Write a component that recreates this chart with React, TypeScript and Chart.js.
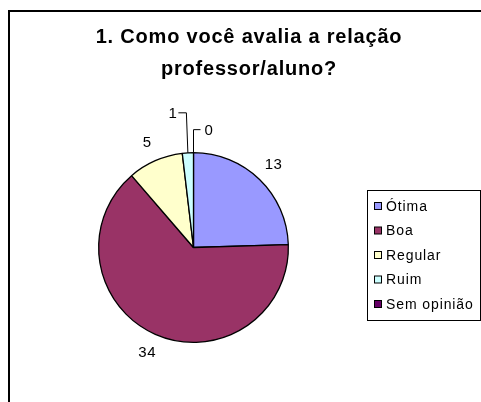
import React, { useEffect, useRef } from "react";
import { Chart, registerables } from "chart.js";

Chart.register(...registerables);

const categories = ["Ótima", "Boa", "Regular", "Ruim", "Sem opinião"];
const values = [13, 34, 5, 1, 0];
const colors = ["#9999FF", "#993366", "#FFFFCC", "#CCFFFF", "#660066"];
const titleLines = ["1. Como você avalia a relação", "professor/aluno?"];

const FONT = '"Liberation Sans", Arial, sans-serif';

const framePlugin = {
  id: "frame",
  beforeDraw(chart: any) {
    const ctx = chart.ctx;
    ctx.save();
    ctx.fillStyle = "#ffffff";
    ctx.fillRect(0, 0, chart.width, chart.height);
    ctx.strokeStyle = "#000000";
    ctx.lineWidth = 2;
    ctx.strokeRect(9, 11, chart.width + 20, chart.height + 20);
    ctx.restore();
  },
};

const titlePlugin = {
  id: "excelTitle",
  afterDraw(chart: any) {
    const ctx = chart.ctx;
    ctx.save();
    ctx.fillStyle = "#000000";
    ctx.font = `bold 20px ${FONT}`;
    (ctx as any).letterSpacing = "0.8px";
    ctx.textAlign = "center";
    ctx.textBaseline = "alphabetic";
    titleLines.forEach((line, i) => {
      ctx.fillText(line, 249, 43 + i * 32);
    });
    ctx.restore();
  },
};

const legendPlugin = {
  id: "excelLegend",
  afterDraw(chart: any) {
    const ctx = chart.ctx;
    const ds = chart.data.datasets[0];
    const labels = chart.data.labels as string[];
    ctx.save();
    ctx.strokeStyle = "#000000";
    ctx.lineWidth = 1;
    ctx.strokeRect(367.5, 190.5, 113, 130);
    ctx.font = `14px ${FONT}`;
    (ctx as any).letterSpacing = "0.9px";
    ctx.textAlign = "left";
    ctx.textBaseline = "middle";
    labels.forEach((lab, i) => {
      const cy = 206 + i * 24.5;
      ctx.fillStyle = ds.backgroundColor[i];
      ctx.fillRect(374.5, cy - 3.5, 7, 7);
      ctx.strokeStyle = "#000000";
      ctx.strokeRect(374.5, cy - 3.5, 7, 7);
      ctx.fillStyle = "#000000";
      ctx.fillText(lab, 386, cy + 1);
    });
    ctx.restore();
  },
};

const labelPlugin = {
  id: "excelLabels",
  afterDatasetsDraw(chart: any) {
    const ctx = chart.ctx;
    const meta = chart.getDatasetMeta(0);
    const data = chart.data.datasets[0].data as number[];
    ctx.save();
    ctx.font = `15px ${FONT}`;
    (ctx as any).letterSpacing = "0.5px";
    ctx.fillStyle = "#000000";
    ctx.strokeStyle = "#000000";
    ctx.lineWidth = 1;
    meta.data.forEach((arc: any, i: number) => {
      const { x, y, startAngle, endAngle, outerRadius } = arc.getProps(
        ["x", "y", "startAngle", "endAngle", "outerRadius"],
        true
      );
      const mid = (startAngle + endAngle) / 2;
      const text = String(data[i]);
      if (endAngle - startAngle > 0.2) {
        const r = outerRadius + 20;
        ctx.textAlign = "center";
        ctx.textBaseline = "middle";
        ctx.fillText(text, x + Math.cos(mid) * r, y + Math.sin(mid) * r);
      } else {
        const ax = x + Math.cos(mid) * outerRadius;
        const ay = y + Math.sin(mid) * outerRadius;
        const left = Math.cos(mid) < -0.01;
        const rise = left ? 40 : 23;
        const topX = left ? ax - 1.5 : ax;
        const topY = ay - rise;
        const endX = left ? topX - 8 : topX + 7;
        ctx.beginPath();
        ctx.moveTo(ax, ay);
        ctx.lineTo(topX, topY);
        ctx.lineTo(endX, topY);
        ctx.stroke();
        ctx.textBaseline = "middle";
        if (left) {
          ctx.textAlign = "right";
          ctx.fillText(text, endX - 1, topY + 1);
        } else {
          ctx.textAlign = "left";
          ctx.fillText(text, endX + 4, topY + 1);
        }
      }
    });
    ctx.restore();
  },
};

export default function App() {
  const ref = useRef<HTMLCanvasElement | null>(null);
  useEffect(() => {
    if (!ref.current) return;
    const chart = new Chart(ref.current, {
      type: "pie",
      data: {
        labels: categories,
        datasets: [
          {
            data: values,
            backgroundColor: colors,
            borderColor: "#000000",
            borderWidth: 1.3,
            hoverOffset: 0,
          },
        ],
      },
      options: {
        responsive: false,
        animation: false,
        events: [],
        layout: { padding: { left: 98, right: 192, top: 152, bottom: 59 } },
        plugins: {
          legend: { display: false },
          title: { display: false },
          tooltip: { enabled: false },
        },
      },
      plugins: [framePlugin, labelPlugin, titlePlugin, legendPlugin],
    });
    return () => chart.destroy();
  }, []);
  return (
    <canvas
      ref={ref}
      width={481}
      height={402}
      style={{ position: "fixed", left: 0, top: 0, width: 481, height: 402 }}
    />
  );
}
